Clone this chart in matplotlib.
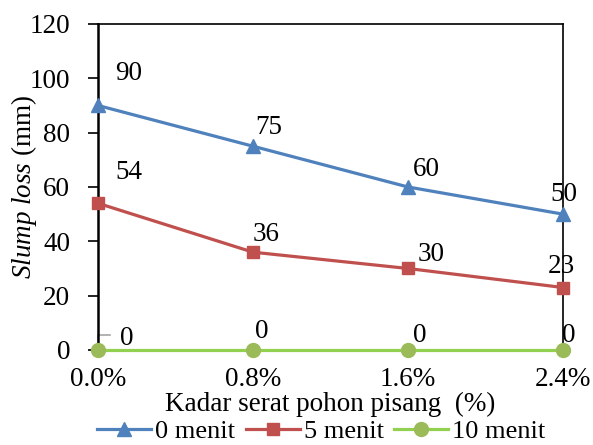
import matplotlib.pyplot as plt

plt.rcParams['font.family'] = ['Liberation Serif', 'DejaVu Serif']
plt.rcParams['mathtext.fontset'] = 'custom'
plt.rcParams['mathtext.rm'] = 'Liberation Serif'
plt.rcParams['mathtext.it'] = 'Liberation Serif:italic'

kadar = ['0.0%', '0.8%', '1.6%', '2.4%']
menit_0 = [90, 75, 60, 50]
menit_5 = [54, 36, 30, 23]
menit_10 = [0, 0, 0, 0]
yticks = [0, 20, 40, 60, 80, 100, 120]

x = list(range(len(kadar)))
fs = 19.5

fig = plt.figure(figsize=(5.93, 4.45), dpi=100)
ax = fig.add_axes([0.1653, 0.2135, 0.7841, 0.7326])

ax.plot(x, menit_0, color='#4F81BD', lw=2.3, marker='^', ms=10, label='0 menit', zorder=3, clip_on=False)
ax.plot(x, menit_5, color='#C0504D', lw=2.3, marker='s', ms=9, label='5 menit', zorder=3, clip_on=False)
ax.plot(x, menit_10, color='#92D050', lw=2.3, marker='o', ms=10, mfc='#9BBB59', mec='#9BBB59',
        label='10 menit', zorder=3, clip_on=False)

# data labels, offsets in pixels from each point to the text baseline
off_0 = [(17, 25), (2, 12), (5, 11), (-13, 13)]
off_5 = [(17, 24), (0, 11), (10, 7), (-15, 15)]
off_10 = [(22, 5), (2, 12), (5, 8), (-1, 8)]
for vals, offs in ((menit_0, off_0), (menit_5, off_5), (menit_10, off_10)):
    for xi, v, o in zip(x, vals, offs):
        ax.annotate(str(v), (xi, v), xytext=o, textcoords='offset pixels',
                    fontsize=fs, ha='left', va='baseline', zorder=4)

# leader line for the first "0" label
ax.plot([0, 0, 0.075], [2, 5.5, 5.5], color='#A6A6A6', lw=1.2, zorder=2, clip_on=False)

ax.set_xlim(0, 3)
ax.set_ylim(0, 120)
ax.set_xticks(x)
ax.set_xticklabels(kadar)
ax.set_yticks(yticks)
ax.tick_params(axis='y', direction='out', length=7, width=1.2, pad=13, labelsize=fs)
ax.tick_params(axis='x', length=0, pad=12, labelsize=fs)
for s in ax.spines.values():
    s.set_color('black')
    s.set_linewidth(1.2)
ax.spines['left'].set_linewidth(1.8)

ax.set_xlabel('Kadar serat pohon pisang  (%)', fontsize=fs, labelpad=0)
ax.set_ylabel(r'$Slump\ loss$ (mm)', fontsize=fs)
ax.yaxis.set_label_coords(-0.128, 0.5)

ax.legend(loc='center', bbox_to_anchor=(0.48, -0.25), ncol=3, frameon=False,
          fontsize=19, handlelength=2.05, handletextpad=0.15, columnspacing=0.4,
          borderaxespad=0, borderpad=0)

fig.savefig('out.png', dpi=100)
